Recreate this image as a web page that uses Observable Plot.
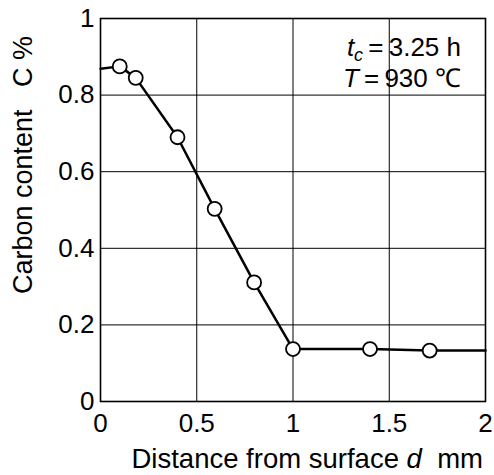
<!DOCTYPE html>
<html><head><meta charset="utf-8">
<script src="https://cdn.jsdelivr.net/npm/d3@7"></script>
<script src="https://cdn.jsdelivr.net/npm/@observablehq/plot@0.6"></script>
<style>
body{margin:0;background:#fff}
svg{font-family:"Liberation Sans",Arial,Helvetica,sans-serif}
</style>
</head><body><div id="chart"></div>
<script>
// measured points (distance from surface, mm ; carbon content, %)
const distance = [0.1, 0.183, 0.4, 0.593, 0.798, 1.0, 1.4, 1.71];
const carbon   = [0.875, 0.845, 0.69, 0.503, 0.311, 0.137, 0.137, 0.133];
// drawn curve through the points, from surface to 2 mm
const curveDistance = [0, 0.1, 0.183, 0.4, 0.593, 0.798, 1.0, 1.4, 1.71, 2];
const curveCarbon   = [0.869, 0.875, 0.845, 0.69, 0.503, 0.311, 0.137, 0.137, 0.133, 0.133];
const xTicks = [0, 0.5, 1, 1.5, 2];
const xTickLabels = ["0", "0.5", "1", "1.5", "2"];
const yTicks = [0, 0.2, 0.4, 0.6, 0.8, 1];
const yTickLabels = ["0", "0.2", "0.4", "0.6", "0.8", "1"];
const xGrid = [0.5, 1, 1.5];
const yGrid = [0.2, 0.4, 0.6, 0.8];

const points = distance.map((d, i) => ({d, c: carbon[i]}));
const curve = curveDistance.map((d, i) => ({d, c: curveCarbon[i]}));

const chart = Plot.plot({
  width: 494, height: 475,
  marginLeft: 100, marginRight: 9, marginTop: 18, marginBottom: 74,
  style: {fontSize: "26px", fontFamily: '"Liberation Sans",Arial,sans-serif', color: "#000", background: "#fff", overflow: "visible"},
  x: {domain: [0, 2]},
  y: {domain: [0, 1]},
  marks: [
    Plot.gridX(xGrid, {stroke: "#000", strokeOpacity: 1, strokeWidth: 1}),
    Plot.gridY(yGrid, {stroke: "#000", strokeOpacity: 1, strokeWidth: 1}),
    Plot.frame({stroke: "#000", strokeWidth: 1.6}),
    Plot.axisX(xTicks, {tickSize: 0, tickPadding: 12, label: null, fontSize: 26,
      tickFormat: d => xTickLabels[xTicks.indexOf(d)]}),
    Plot.axisY(yTicks, {tickSize: 0, tickPadding: 6, label: null, fontSize: 26,
      tickFormat: d => yTickLabels[yTicks.indexOf(d)]}),
    Plot.line(curve, {x: "d", y: "c", stroke: "#000", strokeWidth: 2.5}),
    Plot.dot(points, {x: "d", y: "c", r: 7, fill: "#fff", stroke: "#000", strokeWidth: 1.8})
  ]
});
document.getElementById("chart").appendChild(chart);

const svg = d3.select(chart);
// y axis title
svg.append("text")
  .attr("transform", "translate(32,165) rotate(-90)")
  .attr("text-anchor", "middle").attr("font-size", 27).attr("fill", "#000")
  .attr("xml:space", "preserve").style("white-space", "pre")
  .text("Carbon content   C %");
// x axis title
const xt = svg.append("text").attr("x", 483).attr("y", 468)
  .attr("text-anchor", "end").attr("font-size", 27.5).attr("fill", "#000")
  .style("white-space", "pre");
xt.append("tspan").text("Distance from surface ");
xt.append("tspan").attr("font-style", "italic").text("d");
xt.append("tspan").text("  mm");
// annotation
const a1 = svg.append("text").attr("x", 461).attr("y", 56)
  .attr("text-anchor", "end").attr("font-size", 26).attr("fill", "#000");
a1.append("tspan").attr("font-style", "italic").text("t");
a1.append("tspan").attr("font-style", "italic").attr("font-size", 18).attr("dy", 5).text("c");
a1.append("tspan").attr("dy", -5).text("\u2009=\u20093.25 h");
const a2 = svg.append("text").attr("x", 461).attr("y", 87)
  .attr("text-anchor", "end").attr("font-size", 26).attr("fill", "#000");
a2.append("tspan").attr("font-style", "italic").text("T");
a2.append("tspan").text("\u2009=\u2009930 \u2103");
</script>
</body></html>
